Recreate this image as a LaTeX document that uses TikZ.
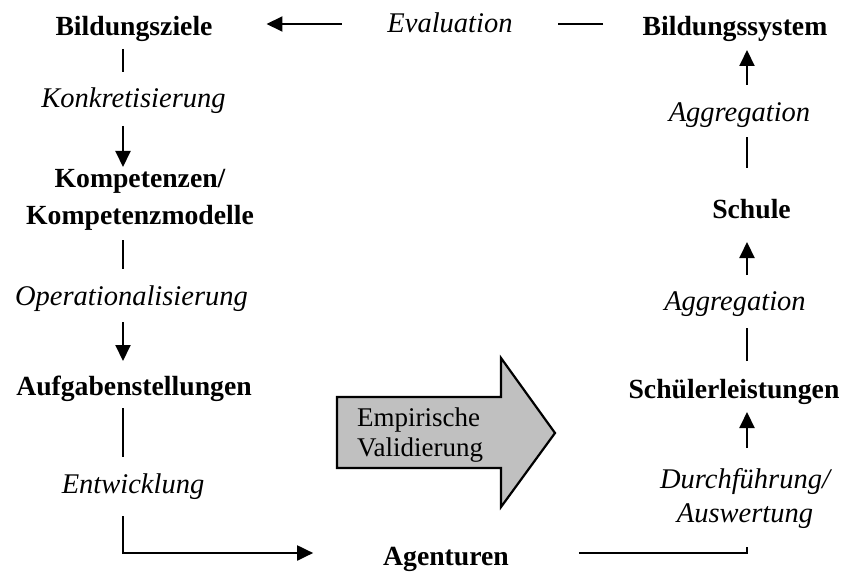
\documentclass[tikz,border=0pt]{standalone}
\usepackage{fontspec}
\setmainfont{Liberation Serif}
\usetikzlibrary{arrows.meta}
\definecolor{arrowgray}{RGB}{192,192,192}
\begin{document}
\begin{tikzpicture}[x=1pt,y=-1pt,
  every node/.style={inner sep=0pt, outer sep=0pt},
  stage/.style={font=\fontsize{27.7}{37}\selectfont\bfseries, text height=19pt, text depth=6pt, anchor=base},
  stagetwo/.style={font=\fontsize{27.7}{37}\selectfont\bfseries, align=center, anchor=north},
  action/.style={font=\fontsize{28.5}{34}\selectfont\itshape, text height=19pt, text depth=6pt, anchor=base},
  actiontwo/.style={font=\fontsize{28.5}{34}\selectfont\itshape, align=center, anchor=north},
  link/.style={line width=2pt},
  flow/.style={link, -{Triangle[length=16pt,width=15pt]}},
]
\useasboundingbox (0,0) rectangle (845,572);

% guide coordinates for the two columns and the horizontal runs
\coordinate (lx) at (123,0);
\coordinate (rx) at (747,0);
\coordinate (topy) at (0,24);
\coordinate (boty) at (0,553);

% left column
\node[stage] (bz) at (134,36) {Bildungsziele};
\node[action] (konk) at (133.5,108) {Konkretisierung};
\node[stagetwo] (komp) at (140,169) {Kompetenzen/\\Kompetenzmodelle};
\node[action] (oper) at (131.5,305) {Operationalisierung};
\node[stage] (aufg) at (134,395) {Aufgabenstellungen};
\node[action] (entw) at (133,493) {Entwicklung};

% top and bottom
\node[action] (eval) at (450,33) {Evaluation};
\node[stage] (agent) at (446,565) {Agenturen};

% right column
\node[stage] (bs) at (735,36) {Bildungssystem};
\node[action] (agg1) at (739.5,122) {Aggregation};
\node[stage] (schule) at (751.5,218) {Schule};
\node[action] (agg2) at (735,310) {Aggregation};
\node[stage] (sl) at (734,398) {Schülerleistungen};
\node[actiontwo] (dur) at (745,468) {Durchführung/\\Auswertung};

% block arrow in the middle
\draw[line width=2.2pt, fill=arrowgray, line join=miter]
  (337,397) -- (501,397) -- (501,358) -- (555,433) -- (501,507) -- (501,468) -- (337,468) -- cycle;
\node[font=\fontsize{27}{30}\selectfont, align=left, anchor=north west] (emp) at (357,408) {Empirische\\Validierung};

% left column connectors
\draw[link, shorten <=7pt, shorten >=17pt] (bz.south -| lx) -- (konk.north -| lx);
\draw[flow, shorten <=12pt, shorten >=2pt] (konk.south -| lx) -- (komp.north -| lx);
\draw[link, shorten <=10pt, shorten >=17pt] (komp.south -| lx) -- (oper.north -| lx);
\draw[flow, shorten <=11pt, shorten >=15pt] (oper.south -| lx) -- (aufg.north -| lx);
\draw[link, shorten <=7pt, shorten >=17pt] (aufg.south -| lx) -- (entw.north -| lx);
\draw[flow, shorten <=17pt, shorten >=70pt] (entw.south -| lx) -- (lx |- boty) -- (agent.west |- boty);

% bottom run and right column connectors
\draw[link, shorten <=70pt, shorten >=19pt] (agent.east |- boty) -- (rx |- boty) -- (dur.south -| rx);
\draw[flow, shorten <=20pt, shorten >=8pt] (dur.north -| rx) -- (sl.south -| rx);
\draw[link, shorten <=18pt, shorten >=12pt] (sl.north -| rx) -- (agg2.south -| rx);
\draw[flow, shorten <=16pt, shorten >=18pt] (agg2.north -| rx) -- (schule.south -| rx);
\draw[link, shorten <=31pt, shorten >=9pt] (schule.north -| rx) -- (agg1.south -| rx);
\draw[flow, shorten <=18pt, shorten >=8pt] (agg1.north -| rx) -- (bs.south -| rx);

% top run
\draw[link, shorten <=39.6pt, shorten >=45.5pt] (bs.west |- topy) -- (eval.east |- topy);
\draw[flow, shorten <=45.5pt, shorten >=54pt] (eval.west |- topy) -- (bz.east |- topy);
\end{tikzpicture}
\end{document}
